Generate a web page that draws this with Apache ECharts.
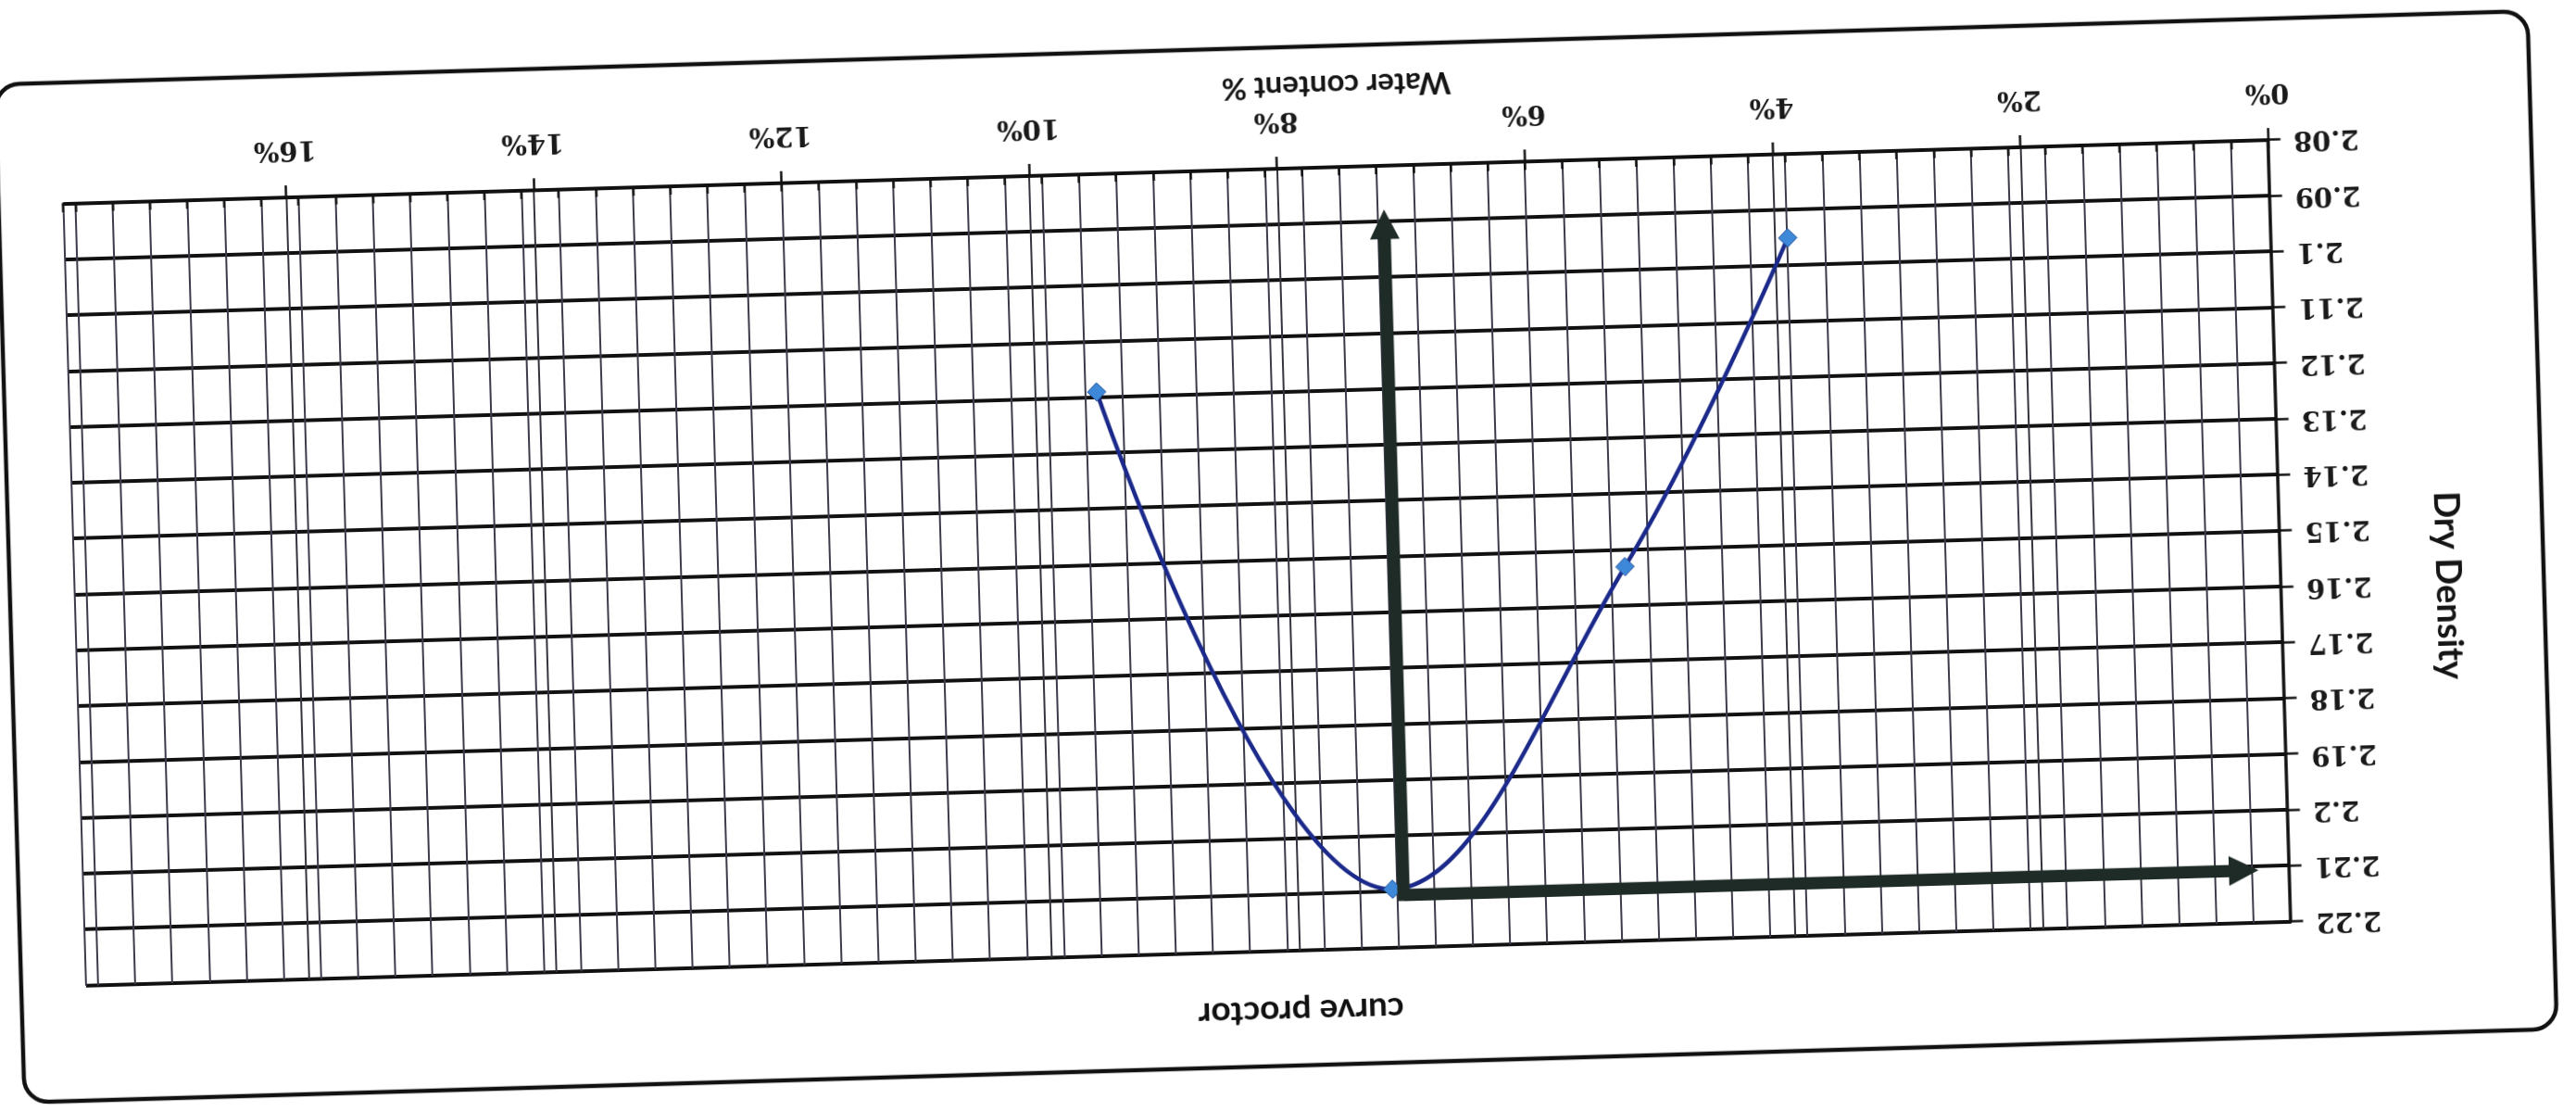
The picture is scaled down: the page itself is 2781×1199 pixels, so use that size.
<!DOCTYPE html>
<html>
<head>
<meta charset="utf-8">
<script src="https://cdn.jsdelivr.net/npm/echarts@6/dist/echarts.min.js"></script>
<style>
html, body { margin: 0; padding: 0; width: 2781px; height: 1199px; overflow: hidden; background: #ffffff; }
#page { position: absolute; left: 0; top: 0; width: 2781px; height: 1199px;
        transform: rotate(178.34deg); transform-origin: 1390.5px 599.5px; }
#chart { width: 2781px; height: 1199px; }
</style>
</head>
<body>
<div id="page"><div id="chart"></div></div>
<script>
// ---- data read from the (upside-down) scanned chart ----
const waterContent = [3.9, 5.29, 7.24, 9.51];          // %
const dryDensity   = [2.095, 2.153, 2.2095, 2.119];    // g/cm3

// axis ranges / steps
const xRange = [0, 17.8];
const xMajorStep = 2;
const xMinorStep = 0.3;
const yRange = [2.08, 2.22];
const yStep = 0.01;

// hand-drawn guide arrows from the optimum point to the axes
const guideCorner = [7.15, 2.2106];   // [water %, dry density]
const guideEnds = [0.37, 2.0905];     // [water % end of horizontal arrow, density end of vertical arrow]

const chartTitle = 'curve proctor';
const xName = 'Water content %';
const yName = 'Dry Density';

const chart = echarts.init(document.getElementById('chart'), null, { renderer: 'canvas' });

const labelFont = { fontFamily: 'DejaVu Serif', fontWeight: 'bold', fontSize: 29, color: '#1a1a1a' };

const curveData = waterContent.map((w, i) => [w, dryDensity[i]]);
const hEnd = [guideEnds[0], guideCorner[1]];
const vEnd = [guideCorner[0], guideEnds[1]];

chart.setOption({
  animation: false,
  backgroundColor: '#ffffff',
  title: {
    text: chartTitle,
    left: 'center',
    top: 84,
    textStyle: { fontFamily: 'Lato', fontWeight: 'bold', fontSize: 37, color: '#111' }
  },
  graphic: [{
    type: 'rect',
    shape: { x: 36, y: 49, width: 2735, height: 1099, r: 26 },
    style: { fill: 'none', stroke: '#111', lineWidth: 4.5 },
    silent: true
  }],
  grid: { left: 319.5, right: 80, top: 173, bottom: 182 },
  xAxis: [{
    type: 'value',
    min: xRange[0], max: xRange[1], interval: xMajorStep,
    position: 'bottom',
    axisLine: { show: true, onZero: false, lineStyle: { color: '#111', width: 3.5 } },
    axisTick: { show: true, length: 13, lineStyle: { color: '#111', width: 2.5 } },
    axisLabel: Object.assign({ formatter: v => v + '%', margin: 38, showMaxLabel: false }, labelFont),
    splitLine: { show: true, lineStyle: { color: '#34343f', width: 2 } },
    name: xName,
    nameLocation: 'middle',
    nameGap: 63,
    nameTextStyle: { fontFamily: 'Lato', fontWeight: 'bold', fontSize: 33, color: '#151515', padding: [0, 373, 0, 0] }
  }, {
    type: 'value',
    min: xRange[0], max: xRange[1], interval: xMinorStep,
    position: 'bottom',
    axisLine: { show: false },
    axisTick: { show: true, inside: true, length: 9, lineStyle: { color: '#111', width: 2.5 } },
    axisLabel: { show: false },
    splitLine: { show: true, lineStyle: { color: '#3b3b4a', width: 2 } }
  }],
  yAxis: {
    type: 'value',
    min: yRange[0], max: yRange[1], interval: yStep,
    axisLine: { show: true, onZero: false, lineStyle: { color: '#111', width: 3.5 } },
    axisTick: { show: true, length: 13, lineStyle: { color: '#111', width: 2.5 } },
    axisLabel: Object.assign({ formatter: v => String(parseFloat(v.toFixed(2))), margin: 27 }, labelFont),
    splitLine: { show: true, lineStyle: { color: '#111', width: 3.8 } },
    name: yName,
    nameLocation: 'middle',
    nameRotate: 90,
    nameGap: 161,
    nameTextStyle: { fontFamily: 'Lato', fontWeight: 'bold', fontSize: 38, color: '#151515', padding: [0, 0, 0, 128] }
  },
  series: [{
    name: 'proctor',
    type: 'line',
    data: curveData,
    smooth: 0.4,
    symbol: 'diamond',
    symbolSize: 20,
    lineStyle: { color: '#1b2a8a', width: 4.5 },
    itemStyle: { color: '#3d88d8', borderColor: '#24539a', borderWidth: 1 },
    z: 3
  }, {
    name: 'guide',
    type: 'line',
    data: [hEnd, guideCorner, vEnd],
    symbol: 'none',
    lineStyle: { color: '#1f2b27', width: 13, join: 'miter', cap: 'butt' },
    silent: true,
    z: 5
  }, {
    name: 'guideHeads',
    type: 'lines',
    coordinateSystem: 'cartesian2d',
    data: [{ coords: [guideCorner, hEnd] }, { coords: [guideCorner, vEnd] }],
    symbol: ['none', 'triangle'],
    symbolSize: [0, 32],
    lineStyle: { color: '#1f2b27', width: 13, opacity: 1 },
    silent: true,
    z: 6
  }]
});
</script>
</body>
</html>
